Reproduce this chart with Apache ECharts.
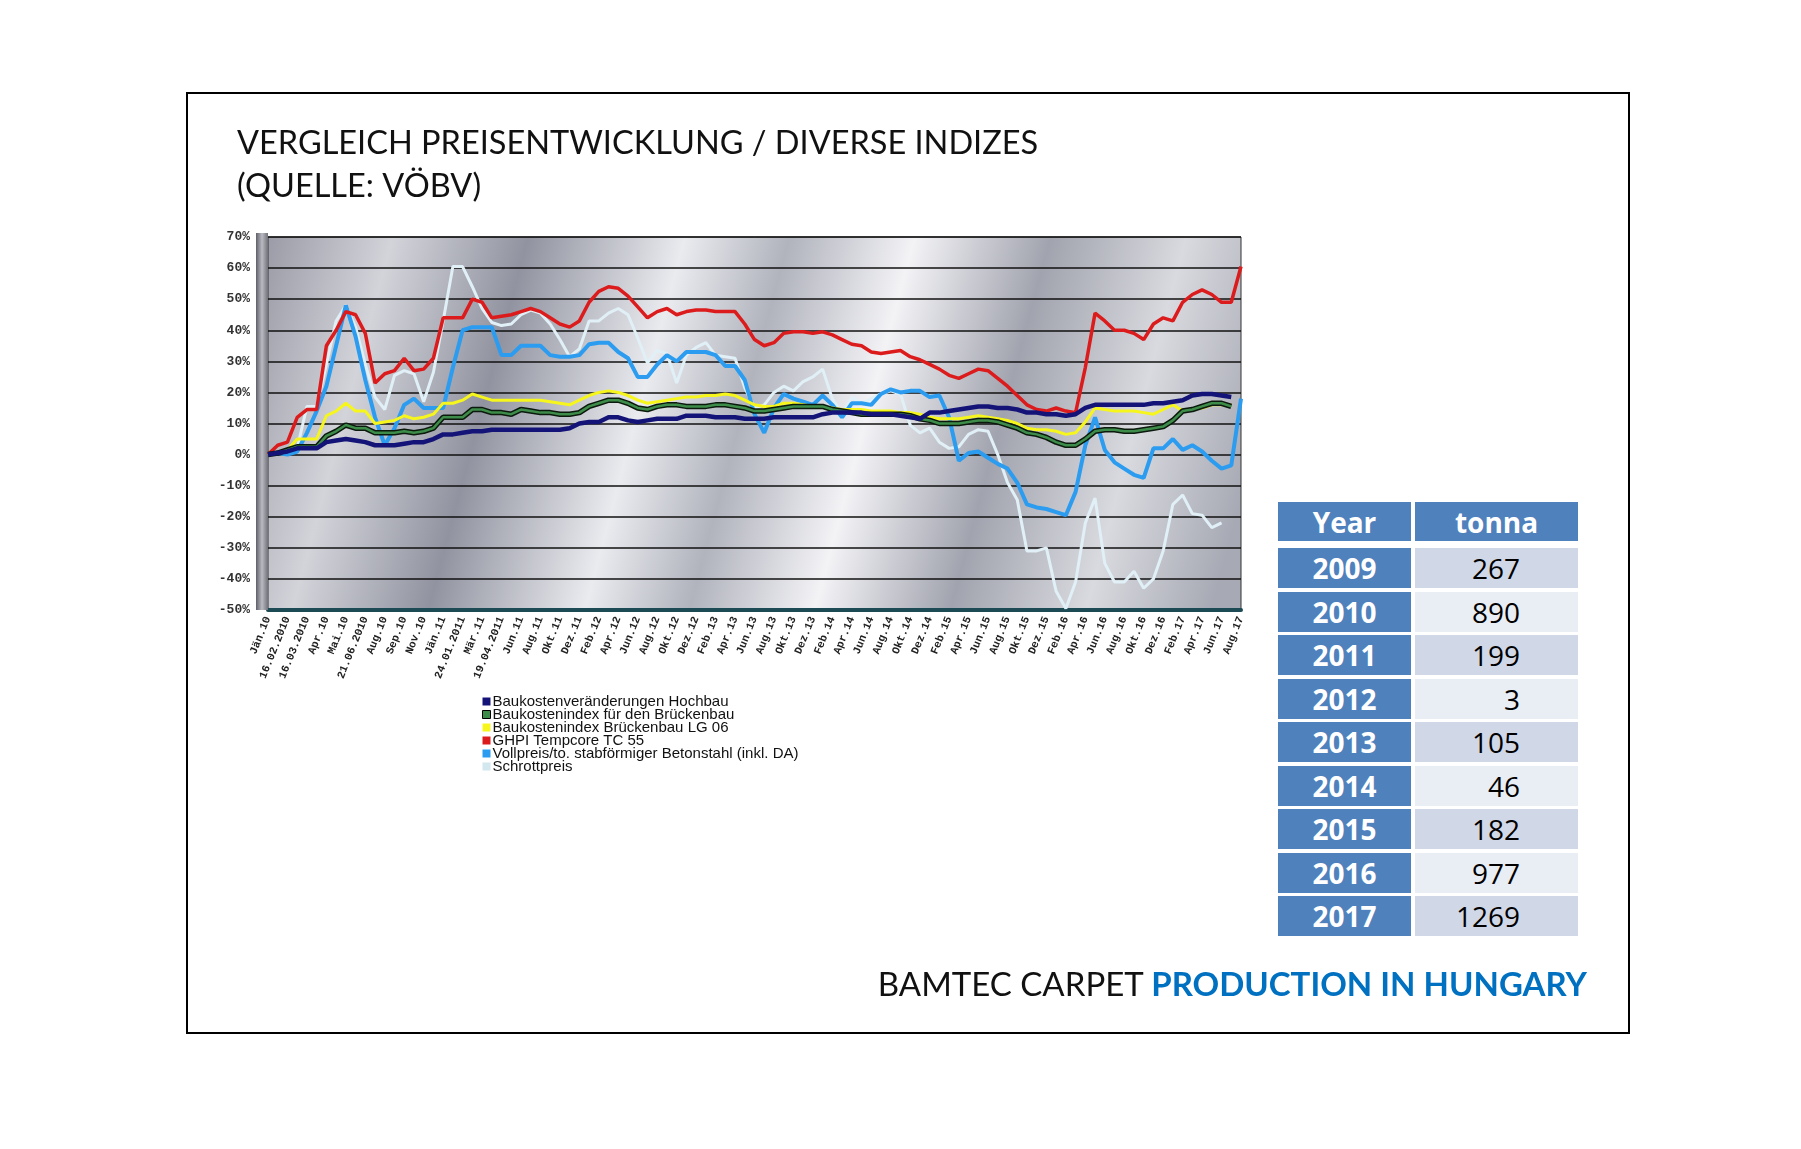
<!DOCTYPE html>
<html>
<head>
<meta charset="utf-8">
<script src="https://cdn.jsdelivr.net/npm/echarts@6/dist/echarts.min.js"></script>
<style>
  html, body { margin: 0; padding: 0; background: #fff; }
  #frame { position: absolute; left: 186px; top: 92px; width: 1440px; height: 938px; border: 2px solid #000; }
  #chart { position: absolute; left: 0; top: 0; width: 1801px; height: 1149px; }
  #tbl { position: absolute; left: 1278px; top: 502px; font-family: 'Open Sans', sans-serif; }
  .row { position: absolute; left: 0; height: 40px; }
  .cell { position: absolute; top: 0; height: 100%; font-size: 28px; display: flex; align-items: center; }
  .yr { left: 0; width: 133px; background: #4f81bd; color: #fff; font-weight: bold; justify-content: center; }
  .val { left: 137px; width: 105px; padding-right: 58px; color: #000; justify-content: flex-end; }
  .hd { justify-content: center; color: #fff; font-weight: bold; background: #4f81bd; padding-right: 0; width: 163px; }
  #footer { position: absolute; right: 214px; top: 963px; font-family: Lato, 'Open Sans', sans-serif; font-size: 33px; color: #111; white-space: nowrap; }
  #footer b { color: #0070c0; }
</style>
</head>
<body>
<div id="frame"></div>
<div id="chart"></div>
<div id="tbl"></div>
<div id="footer">BAMTEC CARPET <b>PRODUCTION IN HUNGARY</b></div>
<script>
// axis tick labels (one every two data points)
const tickLabels = ['Jän.10', '16.02.2010', '16.03.2010', 'Apr.10', 'Mai.10', '21.06.2010', 'Aug.10', 'Sep.10', 'Nov.10',
  'Jän.11', '24.01.2011', 'Mär.11', '19.04.2011', 'Jun.11', 'Aug.11', 'Okt.11', 'Dez.11',
  'Feb.12', 'Apr.12', 'Jun.12', 'Aug.12', 'Okt.12', 'Dez.12',
  'Feb.13', 'Apr.13', 'Jun.13', 'Aug.13', 'Okt.13', 'Dez.13',
  'Feb.14', 'Apr.14', 'Jun.14', 'Aug.14', 'Okt.14', 'Dez.14',
  'Feb.15', 'Apr.15', 'Jun.15', 'Aug.15', 'Okt.15', 'Dez.15',
  'Feb.16', 'Apr.16', 'Jun.16', 'Aug.16', 'Okt.16', 'Dez.16',
  'Feb.17', 'Apr.17', 'Jun.17', 'Aug.17'];

// index values in %
const hochbau = [0, 0.5, 1, 2, 2, 2, 4, 4.5, 5, 4.5, 4, 3, 3, 3, 3.5, 4, 4, 5, 6.5, 6.5, 7, 7.5, 7.5, 8, 8, 8, 8, 8, 8, 8, 8, 8.5, 10,
  10.5, 10.5, 12, 12, 11, 10.5, 11, 11.5, 11.5, 11.5, 12.5, 12.5, 12.5, 12, 12, 12, 11.5, 11.5, 11.5, 12, 12, 12, 12, 12, 13, 13.5, 13.5, 13.5, 13.5, 13, 13, 13, 12.5, 12,
  11.5, 13.5, 13.5, 14, 14.5, 15, 15.5, 15.5, 15, 15, 14.5, 13.5, 13.5, 13, 13, 12.5, 13, 15, 16, 16, 16, 16, 16, 16, 16.5, 16.5, 17, 17.5, 19, 19.5, 19.5, 19, 18.5];

const brueckenbau = [0, 0.5, 1.5, 2.5, 2.5, 2.5, 6, 7.5, 9.5, 8.5, 8.5, 7, 7, 7, 7.5, 7, 7.5, 8.5, 12, 12, 12, 14.5, 14.5, 13.5, 13.5, 13, 14.5, 14, 13.5, 13.5, 13, 13, 13.5,
  15.5, 16.5, 17.5, 17.5, 16.5, 15, 14.5, 15.5, 16, 16, 15.5, 15.5, 15.5, 16, 16, 15.5, 15, 14, 14, 14.5, 15, 15.5, 15.5, 15.5, 15.5, 14.5, 14, 13.5, 13, 13, 13, 13, 13, 12.5,
  11.5, 11, 10, 10, 10, 10.5, 11, 11, 10.5, 9.5, 8.5, 7, 6.5, 5.5, 4, 3, 3, 5, 7.5, 8, 8, 7.5, 7.5, 8, 8.5, 9, 11, 14, 14.5, 15.5, 16.5, 16.5, 15.5];

const lg06 = [0, 0.5, 1.5, 5, 5, 5, 12.5, 14, 16.5, 14, 14, 10, 10.5, 11, 12.5, 11.5, 12, 13, 16.5, 16.5, 17.5, 19.5, 18.5, 17.5, 17.5, 17.5, 17.5, 17.5, 17.5, 17, 16.5, 16, 17.5,
  19, 20, 20.5, 20, 19, 17.5, 16.5, 17, 17.5, 18, 18.5, 18.5, 19, 19, 19.5, 19, 17.5, 16, 15.5, 15.5, 16.5, 16.5, 16, 15.5, 15.5, 15, 14.5, 14.5, 14.5, 14, 14, 14, 13.5, 13.5,
  13, 12, 11.5, 11.5, 11.5, 12, 12.5, 12, 11.5, 11, 10, 8.5, 8, 8, 7.5, 6.5, 7, 10.5, 15, 14.5, 14, 14, 14, 13.5, 13, 14.5, 16, 14, 14.5, 15, 16, 16, 16];

const ghpi = [0, 3, 4, 12, 14.5, 14.5, 35, 40, 46, 45, 39, 23, 26, 27, 31, 27, 27.5, 31, 44, 44, 44, 50, 49, 44, 44.5, 45, 46, 47, 46, 44, 42, 41, 43,
  49, 52.5, 54, 53.5, 51, 47.5, 44, 46, 47, 45, 46, 46.5, 46.5, 46, 46, 46, 42, 37, 35, 36, 39, 39.5, 39.5, 39, 39.5, 38.5, 37, 35.5, 35, 33, 32.5, 33, 33.5, 31.5,
  30.5, 29, 27.5, 25.5, 24.5, 26, 27.5, 27, 24.5, 22, 19, 16, 14.5, 14, 15, 14, 13.5, 28, 45.5, 43, 40, 40, 39, 37, 42, 44, 43, 49, 51.5, 53, 51.5, 49, 49, 60.5];

const vollpreis = [0, 0.5, 0, 1, 7, 14, 22, 35, 48, 38, 24, 12, 3, 8.5, 16, 18, 15, 15, 15, 28, 40, 41, 41, 41, 32, 32, 35, 35, 35, 32, 31.5, 31.5, 32,
  35.5, 36, 36, 33, 31, 25, 25, 29, 32, 30, 33, 33, 33, 32, 28.5, 28.5, 24, 13, 7, 15, 19.5, 18, 17, 16, 19, 16, 12, 16.5, 16.5, 16, 19.5, 21, 20, 20.5,
  20.5, 18.5, 19, 12, -2, 0.5, 1, -1, -3, -4.5, -9, -16, -17, -17.5, -18.5, -19.5, -12, 3, 12, 1.5, -2.5, -4.5, -6.5, -7.5, 2, 2, 5, 1.5, 3, 1, -2, -4.5, -3.5, 18];

const schrott = [0, 0.5, 0, 2, 15.5, 15.5, 29, 43, 48, 41, 29, 18.5, 14.5, 25.5, 27, 26, 17, 26.5, 43, 60.5, 60.5, 54, 47, 42.5, 41.5, 42, 45, 46.5, 45.5, 42, 37, 31.5, 34,
  43, 43, 45.5, 47, 45, 37.5, 29.5, 33.5, 32.5, 23, 32, 34.5, 36, 32, 31.5, 31, 21.5, 15, 16, 20, 22, 20.5, 23.5, 25, 27.5, 18, 13, 18.5, 16.5, 18, 19.5, 20.5, 19.5, 9.5,
  7, 8.5, 4, 2, 2.5, 6.5, 8, 7.5, 0, -9, -14.5, -31, -31, -30, -44, -49.5, -41, -22, -14, -35, -41, -41, -37.5, -43, -40, -31, -16, -13, -19, -19.5, -23.5, -22];

const seriesNames = ['Baukostenveränderungen Hochbau', 'Baukostenindex für den Brückenbau', 'Baukostenindex Brückenbau LG 06',
  'GHPI Tempcore TC 55', 'Vollpreis/to. stabförmiger Betonstahl (inkl. DA)', 'Schrottpreis'];

const years = ['2009', '2010', '2011', '2012', '2013', '2014', '2015', '2016', '2017'];
const tonnes = [267, 890, 199, 3, 105, 46, 182, 977, 1269];

// two data points per tick label
const categories = [];
tickLabels.forEach((t, i) => {
  categories.push(t);
  if (i < tickLabels.length - 1) categories.push('');
});

// table on the right
const tbl = document.getElementById('tbl');
let html = '<div class="row" style="top:0;height:39px"><div class="cell yr">Year</div><div class="cell val hd">tonna</div></div>';
years.forEach((y, i) => {
  const bg = i % 2 === 0 ? '#d0d8e8' : '#e9edf4';
  html += '<div class="row" style="top:' + Math.round(46 + 43.5 * i) + 'px"><div class="cell yr">' + y +
    '</div><div class="cell val" style="background:' + bg + '">' + tonnes[i] + '</div></div>';
});
tbl.innerHTML = html;

const chart = echarts.init(document.getElementById('chart'));

const metal = new echarts.graphic.LinearGradient(0, 0, 1, 0.7, [
  { offset: 0, color: '#9a9ba6' },
  { offset: 0.12, color: '#d3d4da' },
  { offset: 0.25, color: '#9193a0' },
  { offset: 0.4, color: '#eaebef' },
  { offset: 0.5, color: '#b1b3bd' },
  { offset: 0.62, color: '#f3f3f6' },
  { offset: 0.75, color: '#a1a3ae' },
  { offset: 0.88, color: '#d9dadf' },
  { offset: 1, color: '#a7a9b4' }
]);

const lineSeries = (name, data, color, width, z) => ({
  name: name,
  type: 'line',
  data: data,
  symbol: 'none',
  z: z,
  color: color,
  lineStyle: { color: color, width: width },
  emphasis: { disabled: true }
});

const option = {
  animation: false,
  title: {
    text: 'VERGLEICH PREISENTWICKLUNG / DIVERSE INDIZES\n(QUELLE: VÖBV)',
    left: 232,
    top: 117,
    textStyle: { fontFamily: 'Lato', fontSize: 32.5, fontWeight: 'normal', color: '#111', lineHeight: 43 }
  },
  legend: {
    orient: 'vertical',
    left: 477,
    top: 689,
    icon: 'rect',
    itemWidth: 8,
    itemHeight: 8,
    itemGap: -2,
    textStyle: { fontFamily: 'Liberation Sans', fontSize: 15, color: '#111', lineHeight: 14, padding: [0, 0, 0, -3] },
    data: [
      { name: seriesNames[0] },
      { name: seriesNames[1], itemStyle: { borderColor: '#000', borderWidth: 1 } },
      { name: seriesNames[2] },
      { name: seriesNames[3] },
      { name: seriesNames[4] },
      { name: seriesNames[5], itemStyle: { color: '#d3e7ef' } }
    ]
  },
  grid: {
    left: 268,
    right: 560,
    top: 237,
    bottom: 539,
    show: true,
    backgroundColor: metal,
    borderColor: '#333',
    borderWidth: 1
  },
  xAxis: {
    type: 'category',
    data: categories,
    boundaryGap: false,
    axisLine: { onZero: false, lineStyle: { color: '#1c4a55', width: 4 } },
    axisTick: { show: false },
    axisLabel: {
      interval: 0,
      rotate: 68,
      margin: 7,
      fontFamily: 'Liberation Mono',
      fontWeight: 'bold',
      fontSize: 11,
      color: '#222'
    }
  },
  yAxis: {
    type: 'value',
    min: -50,
    max: 70,
    interval: 10,
    axisLine: { show: false },
    axisTick: { show: false },
    axisLabel: {
      formatter: '{value}%',
      margin: 18,
      fontFamily: 'Liberation Mono',
      fontWeight: 'bold',
      fontSize: 13,
      color: '#333'
    },
    splitLine: { lineStyle: { color: '#111', width: 1.5 } }
  },
  graphic: [
    {
      type: 'rect',
      left: 256,
      top: 233,
      shape: { width: 12, height: 377 },
      style: {
        fill: new echarts.graphic.LinearGradient(0, 0, 1, 0, [
          { offset: 0, color: '#5e5f68' },
          { offset: 0.5, color: '#b9bac2' },
          { offset: 1, color: '#707179' }
        ])
      },
      z: 1
    }
  ],
  series: [
    lineSeries(seriesNames[5], schrott, '#e0f0f6', 3, 2),
    lineSeries(seriesNames[4], vollpreis, '#2b9cef', 4, 3),
    lineSeries(seriesNames[3], ghpi, '#dc1c1c', 3.5, 4),
    lineSeries(seriesNames[2], lg06, '#f6f61c', 3, 5),
    // dark outline under the green line
    {
      name: 'outline',
      type: 'line',
      data: brueckenbau,
      symbol: 'none',
      z: 6,
      lineStyle: { color: '#0b1a0d', width: 5.5 },
      emphasis: { disabled: true }
    },
    lineSeries(seriesNames[1], brueckenbau, '#3e8c4a', 2.5, 7),
    lineSeries(seriesNames[0], hochbau, '#141478', 4.5, 8)
  ]
};

chart.setOption(option);
</script>
</body>
</html>
